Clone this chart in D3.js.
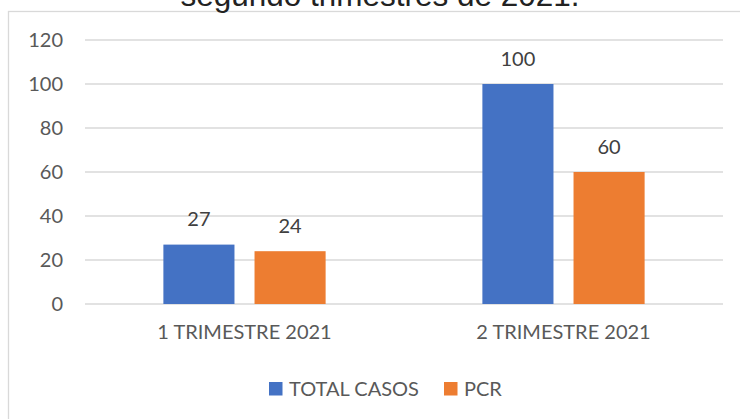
<!DOCTYPE html>
<html>
<head>
<meta charset="utf-8">
<script src="https://cdn.jsdelivr.net/npm/d3@7"></script>
<style>
  body { margin: 0; background: #fff; }
  text { font-family: Lato, "Open Sans", sans-serif; }
</style>
</head>
<body>
<div id="chart"></div>
<script>
// chart data
var categories = ["1 TRIMESTRE 2021", "2 TRIMESTRE 2021"];
var seriesNames = ["TOTAL CASOS", "PCR"];
var totalCasos = [27, 100];
var pcr = [24, 60];
var yTicks = [0, 20, 40, 60, 80, 100, 120];
var titleText = "segundo trimestres de 2021.";

var colors = {"TOTAL CASOS": "#4472C4", "PCR": "#ED7D31"};

var W = 740, H = 419;
var plot = {left: 85, right: 723, top: 40, bottom: 304};

var svg = d3.select("#chart")
  .append("svg")
  .attr("width", W)
  .attr("height", H);

// outer chart border (continues past the picture on right and bottom)
svg.append("rect")
  .attr("x", 8.5).attr("y", 11.5)
  .attr("width", 760).attr("height", 440)
  .attr("fill", "none")
  .attr("stroke", "#d9d9d9")
  .attr("stroke-width", 1.3);

// title, mostly cut at the top
svg.append("text")
  .attr("x", 380).attr("y", 6)
  .attr("text-anchor", "middle")
  .style("font-family", "'Liberation Sans', Arial, sans-serif")
  .style("font-size", "31.5px")
  .attr("fill", "#222")
  .text(titleText);

var y = d3.scaleLinear()
  .domain([0, 120])
  .range([plot.bottom, plot.top]);

var x0 = d3.scaleBand()
  .domain(categories)
  .range([plot.left, plot.right]);

var x1 = d3.scaleBand()
  .domain(seriesNames)
  .range([0, x0.bandwidth()])
  .paddingInner(0.22)
  .paddingOuter(0.86);

// gridlines
svg.append("g")
  .selectAll("line")
  .data(yTicks)
  .join("line")
  .attr("x1", plot.left).attr("x2", plot.right)
  .attr("y1", d => y(d)).attr("y2", d => y(d))
  .attr("stroke", "#d9d9d9")
  .attr("stroke-width", 1.3);

// y axis labels
var yAxis = svg.append("g")
  .attr("transform", "translate(63,0)")
  .call(d3.axisLeft(y).tickValues(yTicks).tickSize(0).tickPadding(0));
yAxis.select(".domain").remove();
yAxis.selectAll("text")
  .style("font-family", "Lato, sans-serif")
  .style("font-size", "20px")
  .attr("fill", "#595959");

// x axis labels
var xAxis = svg.append("g")
  .attr("transform", "translate(0," + plot.bottom + ")")
  .call(d3.axisBottom(x0).tickSize(0).tickPadding(21));
xAxis.select(".domain").remove();
xAxis.selectAll("text")
  .style("font-family", "Lato, sans-serif")
  .style("font-size", "20px")
  .attr("fill", "#595959");

var rows = categories.map(function(c, i) {
  return {cat: c, values: [
    {name: "TOTAL CASOS", value: totalCasos[i]},
    {name: "PCR", value: pcr[i]}
  ]};
});

var groups = svg.append("g")
  .selectAll("g")
  .data(rows)
  .join("g")
  .attr("transform", d => "translate(" + x0(d.cat) + ",0)");

groups.selectAll("rect")
  .data(d => d.values)
  .join("rect")
  .attr("x", d => x1(d.name))
  .attr("y", d => y(d.value))
  .attr("width", x1.bandwidth())
  .attr("height", d => y(0) - y(d.value))
  .attr("fill", d => colors[d.name]);

groups.selectAll("text.lbl")
  .data(d => d.values)
  .join("text")
  .attr("class", "lbl")
  .attr("x", d => x1(d.name) + x1.bandwidth() / 2)
  .attr("y", d => y(d.value) - 18.5)
  .attr("text-anchor", "middle")
  .style("font-size", "20px")
  .attr("fill", "#404040")
  .text(d => d.value);

// legend
var legendX = [269, 444];
var legend = svg.append("g")
  .selectAll("g")
  .data(seriesNames)
  .join("g")
  .attr("transform", (d, i) => "translate(" + legendX[i] + ",382)");

legend.append("rect")
  .attr("width", 13.5).attr("height", 13.5)
  .attr("fill", d => colors[d]);

legend.append("text")
  .attr("x", 20).attr("y", 7)
  .attr("dy", "0.35em")
  .style("font-size", "20px")
  .attr("fill", "#595959")
  .text(d => d);
</script>
</body>
</html>
